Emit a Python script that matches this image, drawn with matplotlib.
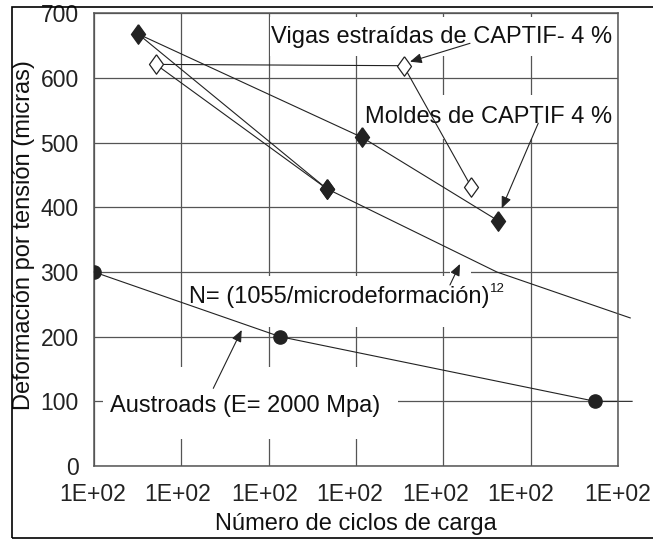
import numpy as np
import matplotlib.pyplot as plt
from matplotlib.patches import Rectangle
from matplotlib.transforms import ScaledTranslation

plt.rcParams['font.family'] = ['Liberation Sans', 'DejaVu Sans']

# Moldes de CAPTIF 4 % (filled diamonds), in the order the line joins them
moldes_ciclos = [4.6e4, 3.2e2, 1.18e5, 4.27e6]
moldes_def = [429, 668, 508, 379]

# Vigas estraídas de CAPTIF- 4 % (open diamonds)
vigas_ciclos = [4.6e4, 5.1e2, 3.5e5, 2.1e6]
vigas_def = [429, 621, 619, 431]

# fatigue law N = (1055/microdeformación)^12
ley_ciclos = [4.6e4, 4.1e6, 1.38e8]
ley_def = [429, 300, 229]

# Austroads (E= 2000 Mpa)
austroads_ciclos = [1.0e2, 1.35e4, 5.5e7, 1.45e8]
austroads_def = [300, 200, 100, 100]

x_ticks = [1e2, 1e3, 1e4, 1e5, 1e6, 1e7, 1e8]
x_ticklabels = ['1E+02'] * 7
y_ticks = [0, 100, 200, 300, 400, 500, 600, 700]

fig = plt.figure(figsize=(6.53, 5.39), dpi=100)
ax = fig.add_axes([0.144, 0.1354, 0.8024, 0.8399])

ax.set_xscale('log')
ax.set_xlim(1e2, 1e8)
ax.set_ylim(0, 700)
ax.set_xticks(x_ticks)
ax.set_xticklabels(x_ticklabels)
ax.minorticks_off()
ax.set_yticks(y_ticks)
ax.tick_params(length=0, labelsize=16.5, colors='#222222')
ax.tick_params(axis='x', pad=12)
ax.tick_params(axis='y', pad=11)

# the x labels sit a little off their grid lines
desplaz = [-1.5, -3.3, -4, -6, -8, -9.7, 0]
for lab, dx in zip(ax.get_xticklabels(), desplaz):
    lab.set_transform(lab.get_transform() + ScaledTranslation(dx / 100, 0, fig.dpi_scale_trans))

ax.grid(True, color='#555555', linewidth=0.9)
ax.set_axisbelow(True)
for s in ax.spines.values():
    s.set_color('#555555')
    s.set_linewidth(1.1)

# white boxes behind the labels hide the grid
def caja(x0, x1, y0, y1):
    ax.add_patch(Rectangle((x0, y0), x1 - x0, y1 - y0, facecolor='white',
                           edgecolor='none', zorder=1))

caja(1.04e4, 9.25e7, 634, 694)
caja(1.11e5, 9.25e7, 505, 574)
caja(1.10e3, 4.46e6, 215, 294)
caja(1.2e6, 2.1e6, 288, 306)
caja(1.27e2, 3.03e5, 42, 153)

lc = '#222222'
ax.plot(ley_ciclos, ley_def, color=lc, lw=0.8, zorder=2, clip_on=False)
ax.plot(austroads_ciclos, austroads_def, color=lc, lw=0.8, zorder=2, clip_on=False)
ax.plot(austroads_ciclos[:3], austroads_def[:3], 'o', color=lc, ms=9.5, zorder=3)

rombo = [(0, 1), (0.72, 0), (0, -1), (-0.72, 0), (0, 1)]
ax.plot(vigas_ciclos, vigas_def, color=lc, lw=0.8, marker=rombo, ms=14,
        mfc='white', mec=lc, mew=0.9, zorder=3)
ax.plot(moldes_ciclos, moldes_def, color=lc, lw=0.8, marker=rombo, ms=14,
        mfc=lc, mec=lc, zorder=4)

fs = 17
ax.text(9.57e5, 654.6, 'Vigas estraídas de CAPTIF- 4 %', fontsize=fs,
        ha='center', va='baseline', color='#111111', zorder=1.5)
ax.text(3.27e6, 530.3, 'Moldes de CAPTIF 4 %', fontsize=fs,
        ha='center', va='baseline', color='#111111', zorder=1.5)
t = ax.text(1231, 251.6, 'N= (1055/microdeformación)', fontsize=fs,
            ha='left', va='baseline', color='#111111', zorder=1.5)
ax.annotate('12', xy=(1.0, 0.62), xycoords=t, fontsize=9.5,
            ha='left', va='bottom', color='#111111', zorder=1.5)
ax.text(152.5, 84, 'Austroads (E= 2000 Mpa)', fontsize=fs,
        ha='left', va='baseline', color='#111111', zorder=1.5)

flecha = dict(arrowstyle='-|>,head_length=0.7,head_width=0.3', color=lc,
              lw=0.8, shrinkA=0, shrinkB=0)
ax.annotate('', xy=(4.15e5, 625.2), xytext=(2.02e6, 653.6), arrowprops=flecha, zorder=5)
ax.annotate('', xy=(4.66e6, 398.5), xytext=(1.22e7, 530), arrowprops=flecha, zorder=5)
ax.annotate('', xy=(1.55e6, 312.4), xytext=(1.19e6, 279.9), arrowprops=flecha, zorder=5)
ax.annotate('', xy=(4.91e3, 210.3), xytext=(2.32e3, 120.1), arrowprops=flecha, zorder=5)

ax.set_xlabel('Número de ciclos de carga', fontsize=fs, color='#111111', labelpad=5)
ax.set_ylabel('Deformación por tensión (micras)', fontsize=fs, color='#111111', labelpad=5)
ax.yaxis.set_label_coords(-0.112, 0.51)

# frame round the whole figure
fig.add_artist(Rectangle((0.0179, 0.0019), 1.1, 0.9846, transform=fig.transFigure,
                         fill=False, edgecolor='black', linewidth=1.2))

fig.savefig('out.png', dpi=100)
